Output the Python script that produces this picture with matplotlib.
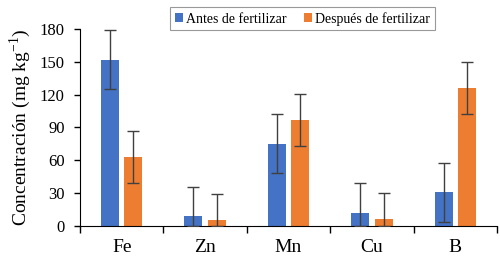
import numpy as np
import matplotlib.pyplot as plt

plt.rcParams['font.family'] = ['Liberation Serif', 'DejaVu Serif']

elements = ["Fe", "Zn", "Mn", "Cu", "B"]
antes = [152, 9, 75, 12, 31]
antes_err = [27, 27, 27, 27, 27]
despues = [63, 5.5, 97, 6.5, 126]
despues_err = [24, 24, 24, 24, 24]

fig = plt.figure(figsize=(5, 2.56), dpi=100)
ax = fig.add_axes([0.16, 0.117, 0.834, 0.77])

x = np.arange(len(elements))
w = 0.215
off = 0.14

# lower error limits are clipped at zero, like the original
lo_a = [min(e, v) for v, e in zip(antes, antes_err)]
lo_d = [min(e, v) for v, e in zip(despues, despues_err)]

ax.bar(x - off, antes, w, color="#4472C4", label="Antes de fertilizar", zorder=2)
ax.bar(x + off, despues, w, color="#ED7D31", label="Después de fertilizar", zorder=2)
ax.errorbar(x - off, antes, yerr=[lo_a, antes_err], fmt="none", ecolor="#404040",
            elinewidth=1, capsize=4, capthick=1, zorder=3)
ax.errorbar(x + off, despues, yerr=[lo_d, despues_err], fmt="none", ecolor="#404040",
            elinewidth=1, capsize=4, capthick=1, zorder=3)

ax.set_xlim(-0.5, len(elements) - 0.5)
ax.set_ylim(0, 180)
ax.set_yticks(np.arange(0, 181, 30))
ax.set_xticks(np.arange(-0.5, len(elements), 1.0))
ax.set_xticklabels([])
ax.set_xticks(x, minor=True)
ax.set_xticklabels(elements, minor=True)
ax.tick_params(axis="x", which="minor", length=0, pad=9, labelsize=14)
ax.tick_params(axis="x", which="major", length=5, width=1)
ax.tick_params(axis="y", length=4, width=1, labelsize=12, pad=7)

for s in ["top", "right"]:
    ax.spines[s].set_visible(False)
ax.spines["left"].set_color("black")
ax.spines["bottom"].set_color("black")

ax.set_ylabel("Concentración (mg kg$^{\\mathregular{-1}}$)", fontsize=14, labelpad=5)

leg = fig.legend(loc="upper center", bbox_to_anchor=(0.605, 1.0), ncol=2, fontsize=10,
                 frameon=True, fancybox=False, edgecolor="#808080", handlelength=0.6,
                 handleheight=0.6, handletextpad=0.25, columnspacing=1.2, borderpad=0.35)
leg.get_frame().set_linewidth(0.8)

fig.savefig("out.png", dpi=100)
